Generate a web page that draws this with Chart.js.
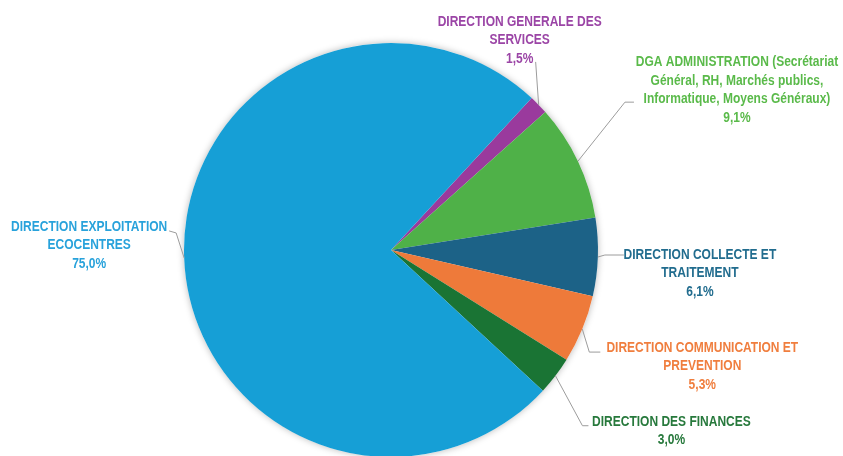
<!DOCTYPE html>
<html lang="fr">
<head>
<meta charset="UTF-8">
<title>Répartition par direction</title>
<style>
  body { margin: 0; background: #fff; }
  #wrap { width: 843px; height: 456px; position: relative; }
</style>
</head>
<body>
<div id="wrap"><canvas id="pie"></canvas></div>
<script src="https://cdn.jsdelivr.net/npm/chart.js"></script>
<script>
// data
const categories = [
  ['DIRECTION GENERALE DES', 'SERVICES'],
  ['DGA ADMINISTRATION (Secrétariat', 'Général, RH, Marchés publics,', 'Informatique, Moyens Généraux)'],
  ['DIRECTION COLLECTE ET', 'TRAITEMENT'],
  ['DIRECTION COMMUNICATION ET', 'PREVENTION'],
  ['DIRECTION DES FINANCES'],
  ['DIRECTION EXPLOITATION', 'ECOCENTRES']
];
const shares = [1.5, 9.1, 6.1, 5.3, 3.0, 75.0];
const sliceColors = ['#9a3a9d', '#4fb148', '#1c6287', '#ee7a3a', '#1a7434', '#169fd6'];
const labelColors = ['#9b45a6', '#5aba4a', '#216c8e', '#f07e3e', '#27793c', '#28a2db'];

// label layout: offsets from the outer middle of each slice
// elbow = where the leader bends, end = where it stops, text = centre of first line
const labelLayout = [
  { elbow: [-3, -43], end: [-3, -43], text: [-19, -83] },
  { elbow: [47, -59], end: [56, -59], text: [159, -99] },
  { elbow: [7, -2], end: [26, -2], text: [102, -2] },
  { elbow: [7, 23], end: [18, 23], text: [120, 19] },
  { elbow: [27, 50], end: [33, 50], text: [116, 46] },
  { elbow: [-8, -25], end: [-15, -27], text: [-95, -31] }
];
const FONT = 'bold 14px "Liberation Sans", Arial, sans-serif';
const LINE_H = 18.5;
// the labels use a narrow face: squeeze so this line is 164px wide
const REF_LINE = 'DIRECTION GENERALE DES', REF_W = 164;

const pieShadow = {
  id: 'pieShadow',
  beforeDatasetsDraw(chart) {
    const arc = chart.getDatasetMeta(0).data[0];
    if (!arc) return;
    const ctx = chart.ctx;
    ctx.save();
    ctx.shadowColor = 'rgba(0,0,0,0.28)';
    ctx.shadowBlur = 7;
    ctx.fillStyle = '#fff';
    ctx.beginPath();
    ctx.arc(arc.x, arc.y, arc.outerRadius, 0, Math.PI * 2);
    ctx.fill();
    ctx.restore();
  }
};

const outsideLabels = {
  id: 'outsideLabels',
  afterDatasetsDraw(chart) {
    const ctx = chart.ctx;
    const arcs = chart.getDatasetMeta(0).data;
    ctx.save();
    ctx.font = FONT;
    const sx = REF_W / ctx.measureText(REF_LINE).width;
    arcs.forEach((arc, i) => {
      const mid = (arc.startAngle + arc.endAngle) / 2;
      const ex = arc.x + Math.cos(mid) * arc.outerRadius;
      const ey = arc.y + Math.sin(mid) * arc.outerRadius;
      const lay = labelLayout[i];

      ctx.strokeStyle = '#9c9c9c';
      ctx.lineWidth = 1;
      ctx.beginPath();
      ctx.moveTo(ex, ey);
      ctx.lineTo(ex + lay.elbow[0], ey + lay.elbow[1]);
      ctx.lineTo(ex + lay.end[0], ey + lay.end[1]);
      ctx.stroke();

      const lines = categories[i].concat([shares[i].toFixed(1).replace('.', ',') + '%']);
      ctx.fillStyle = labelColors[i];
      ctx.textAlign = 'center';
      ctx.textBaseline = 'middle';
      lines.forEach((t, k) => {
        ctx.save();
        ctx.translate(ex + lay.text[0], ey + lay.text[1] + k * LINE_H);
        ctx.scale(sx, 1);
        ctx.fillText(t, 0, 0);
        ctx.restore();
      });
    });
    ctx.restore();
  }
};

new Chart(document.getElementById('pie'), {
  type: 'pie',
  data: {
    labels: categories.map(c => c.join(' ')),
    datasets: [{
      data: shares,
      backgroundColor: sliceColors,
      borderWidth: 0
    }]
  },
  options: {
    responsive: true,
    maintainAspectRatio: false,
    animation: false,
    rotation: 42.8,
    radius: 207,
    layout: { padding: { top: 44, bottom: 0, left: 0, right: 61 } },
    plugins: {
      legend: { display: false },
      tooltip: { enabled: false }
    }
  },
  plugins: [pieShadow, outsideLabels]
});
</script>
</body>
</html>
